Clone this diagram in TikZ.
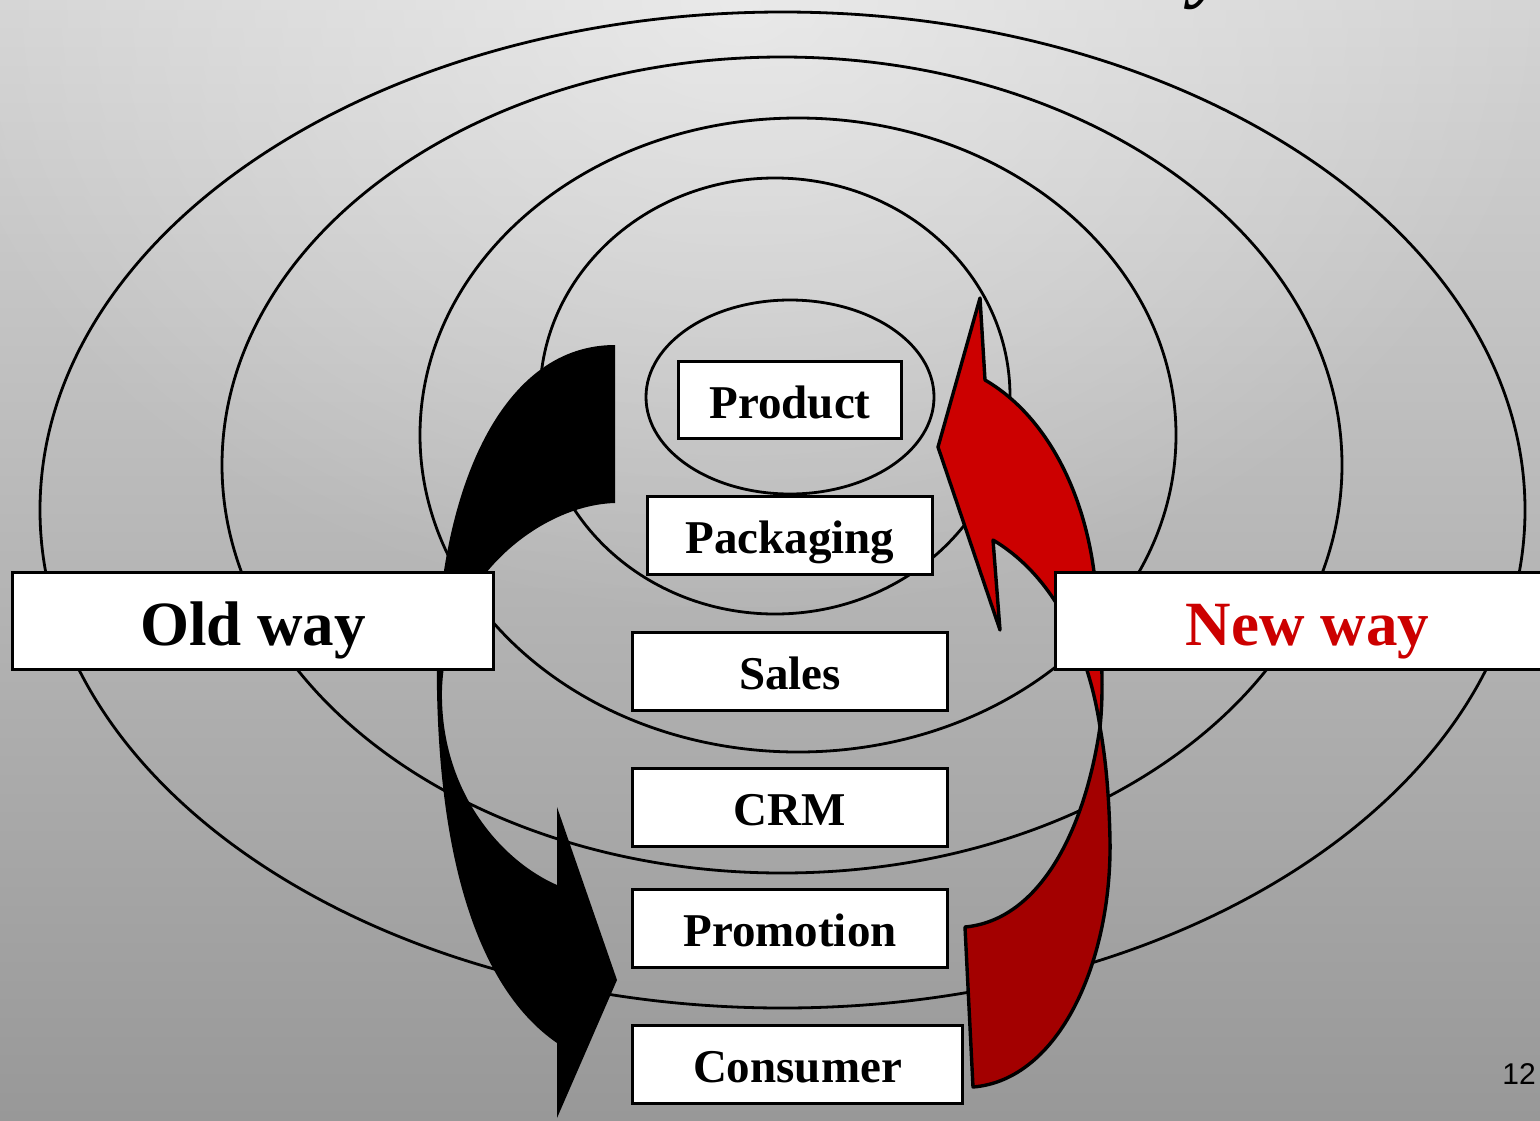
\documentclass[tikz,border=0pt]{standalone}
\usepackage{fontspec}
\setmainfont{Liberation Serif}
\newfontfamily\numfont{Liberation Sans}
\usetikzlibrary{fadings}
\definecolor{bgtop}{HTML}{D4D4D4}
\definecolor{bgbot}{HTML}{989898}
\definecolor{redfront}{HTML}{CC0000}
\definecolor{redback}{HTML}{A30000}
\tikzfading[name=topglow, inner color=transparent!0, outer color=transparent!100]
\begin{document}
\begin{tikzpicture}[x=1pt, y=-1pt,
  ring/.style={draw=black, line width=2.8pt},
  box/.style={draw=black, line width=3pt, fill=white, rectangle, inner sep=0pt,
    text height=36pt, text depth=0pt,
    font=\bfseries\fontsize{47}{56}\selectfont},
  waybox/.style={box, text height=49pt, font=\bfseries\fontsize{63}{75}\selectfont},
  redarrow/.style={draw=black, line width=3.4pt, line join=round}]
\useasboundingbox (0,0) rectangle (1540,1120);

% backdrop: vertical grey ramp with a soft light patch at the top
\shade[top color=bgtop, bottom color=bgbot] (0,0) rectangle (1540,1120);
\fill[white, fill opacity=0.5, path fading=topglow] (740,0) ellipse [x radius=820, y radius=620];

% title descender peeking in at the top edge
\node[anchor=base, inner sep=0pt, font=\bfseries\itshape\fontsize{80}{90}\selectfont] (title) at (1210,-8) {y};

% concentric rings
\draw[ring] (782.5,510) ellipse [x radius=742.5, y radius=498];
\draw[ring] (782,465) ellipse [x radius=560, y radius=408];
\draw[ring] (798,435) ellipse [x radius=378, y radius=317];
\draw[ring] (775,396) ellipse [x radius=235, y radius=218];
\draw[ring] (790,397) ellipse [x radius=144, y radius=97];

% old way: black curved arrow running down the left side
\fill[black] (615,345) .. controls (505,345) and (445,480) .. (437,640)
  .. controls (433,860) and (480,990) .. (557,1043)
  -- (557,1118) -- (617,980) -- (557,807) -- (557,885)
  .. controls (500,860) and (440,790) .. (442,690)
  .. controls (445,580) and (540,505) .. (615,503) -- cycle;

% new way: twisted red arrow running up the right side
\filldraw[redarrow, fill=redback] (1100,727) .. controls (1085,830) and (1040,920) .. (965,927)
  -- (973,1087) .. controls (1060,1080) and (1112,960) .. (1110,840)
  .. controls (1109,790) and (1105,755) .. (1100,727) -- cycle;
\filldraw[redarrow, fill=redfront] (980,298) -- (985,380)
  .. controls (1045,415) and (1085,490) .. (1095,580)
  .. controls (1102,640) and (1104,690) .. (1100,727)
  .. controls (1090,660) and (1060,580) .. (993,540)
  -- (1000,630) -- (938,447) -- cycle;

% stage boxes
\node[box, minimum width=223, minimum height=77] (product) at (790,400) {Product};
\node[box, minimum width=285, minimum height=78] (packaging) at (790,535.5) {Packaging};
\node[box, minimum width=315, minimum height=78] (sales) at (790,671.5) {Sales};
\node[box, minimum width=315, minimum height=78] (crm) at (790,807.5) {CRM};
\node[box, minimum width=315, minimum height=78] (promotion) at (790,928.5) {Promotion};
\node[box, minimum width=330, minimum height=78] (consumer) at (797.5,1064.5) {Consumer};

% side labels
\node[waybox, minimum width=481, minimum height=97] (oldway) at (253,621) {Old way};
\node[waybox, minimum width=505, minimum height=97, text=redfront] (newway) at (1307.5,621) {New way};

% slide number
\node[font=\numfont\fontsize{30}{36}\selectfont, inner sep=0pt] (pagenum) at (1519,1074) {12};
\end{tikzpicture}
\end{document}
